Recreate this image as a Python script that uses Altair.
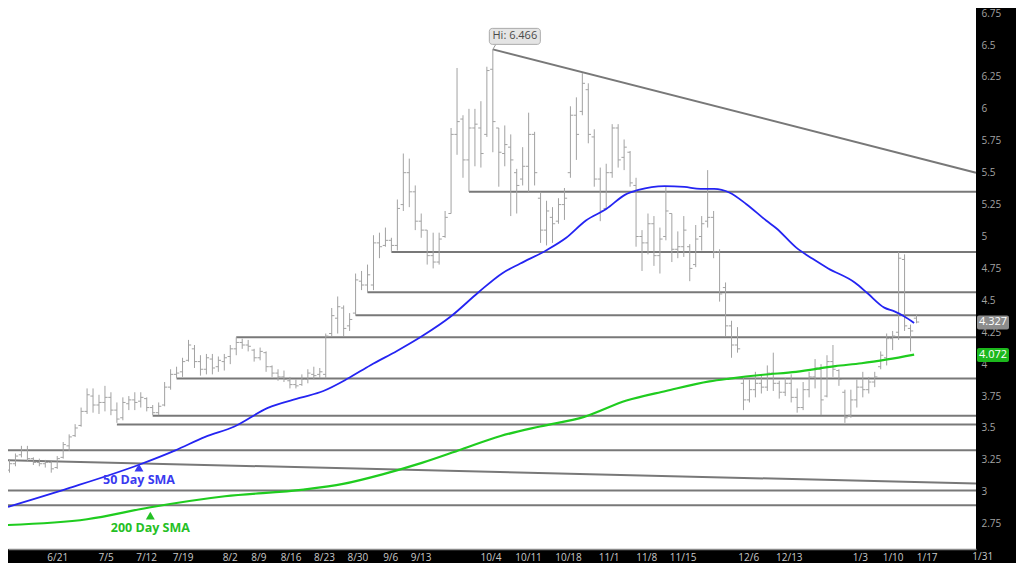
import altair as alt
import pandas as pd

# ---------------- data ----------------
opens = [3.17,3.22,3.29,3.33,3.26,3.23,3.22,3.23,3.19,3.27,
         3.36,3.44,3.52,3.63,3.75,3.68,3.70,3.74,3.64,3.58,
         3.69,3.72,3.71,3.73,3.66,3.62,3.68,3.82,3.92,3.94,
         4.03,4.12,4.02,3.96,4.04,3.98,4.02,4.06,4.12,4.17,
         4.15,4.11,4.05,4.09,3.98,3.93,3.90,3.87,3.84,3.84,
         3.88,3.92,3.92,3.92,4.24,4.36,4.44,4.30,4.40,4.65,
         4.62,4.62,4.95,4.93,4.97,4.93,5.25,5.50,5.35,5.12,
         5.05,4.85,4.80,5.00,5.18,5.80,5.92,5.60,5.85,5.85,
         5.80,6.31,5.85,5.65,5.70,5.50,5.45,5.55,5.80,5.30,
         5.05,5.15,5.12,5.25,5.50,5.95,5.98,6.15,5.78,5.45,
         5.22,5.50,5.85,5.62,5.66,5.40,5.00,4.95,5.10,4.85,
         5.00,5.18,4.90,4.92,4.92,4.78,5.00,5.12,5.15,4.88,
         4.60,4.30,4.15,3.85,3.72,3.80,3.85,3.82,3.93,3.85,
         3.78,3.85,3.74,3.66,3.80,3.90,3.96,3.75,4.02,3.95,
         3.78,3.60,3.72,3.82,3.80,3.86,3.98,4.05,4.20,4.25,
         4.82,4.28,4.36]
highs = [3.25,3.30,3.36,3.36,3.27,3.26,3.25,3.24,3.28,3.39,
         3.45,3.53,3.66,3.81,3.81,3.76,3.83,3.78,3.70,3.74,
         3.75,3.78,3.78,3.74,3.68,3.70,3.86,3.96,3.98,4.05,
         4.19,4.15,4.07,4.08,4.08,4.06,4.08,4.15,4.21,4.20,
         4.19,4.12,4.13,4.10,3.99,3.96,3.95,3.90,3.88,3.92,
         3.96,3.98,3.97,4.24,4.44,4.53,4.46,4.40,4.71,4.73,
         4.78,5.01,5.03,5.07,4.99,5.29,5.65,5.61,5.40,5.18,
         5.05,5.03,5.03,5.20,5.85,6.32,5.95,6.00,6.00,6.06,
         6.33,6.466,5.85,5.87,5.80,5.53,5.70,5.97,5.82,5.35,
         5.28,5.23,5.30,5.38,6.02,6.09,6.28,6.20,5.84,5.54,
         5.57,5.88,5.88,5.76,5.67,5.46,5.05,5.18,5.16,5.07,
         5.39,5.18,5.04,5.16,4.94,5.09,5.16,5.52,5.20,4.90,
         4.64,4.34,4.29,3.89,3.88,3.94,3.92,3.99,4.09,3.87,
         3.89,3.92,3.81,3.86,3.94,4.04,4.00,4.07,4.15,3.96,
         3.80,3.80,3.88,3.94,3.90,3.94,4.10,4.24,4.26,4.88,
         4.86,4.31,4.39]
lows = [3.15,3.20,3.27,3.24,3.21,3.20,3.19,3.15,3.18,3.26,
        3.32,3.43,3.51,3.61,3.62,3.61,3.63,3.60,3.54,3.56,
        3.64,3.64,3.66,3.63,3.60,3.60,3.67,3.80,3.89,3.90,
        4.02,3.97,3.91,3.92,3.92,3.94,3.95,4.00,4.07,4.12,
        4.10,4.02,4.03,3.94,3.90,3.87,3.86,3.81,3.81,3.83,
        3.85,3.88,3.89,3.89,4.22,4.24,4.22,4.26,4.38,4.58,
        4.56,4.58,4.83,4.92,4.88,4.89,5.20,5.23,5.05,4.99,
        4.78,4.75,4.78,4.99,5.18,5.64,5.46,5.35,5.55,5.54,
        5.78,5.66,5.39,5.55,5.16,5.18,5.40,5.35,5.40,4.95,
        4.93,4.95,5.10,5.13,5.46,5.60,5.95,5.73,5.39,5.12,
        5.22,5.46,5.54,5.52,5.39,4.92,4.73,4.86,4.77,4.71,
        4.97,4.80,4.83,4.84,4.65,4.76,4.89,5.07,4.83,4.49,
        4.22,4.05,4.09,3.64,3.70,3.74,3.77,3.79,3.79,3.73,
        3.75,3.70,3.62,3.64,3.74,3.81,3.60,3.74,3.90,3.83,
        3.54,3.58,3.66,3.74,3.77,3.82,3.96,3.99,4.11,4.19,
        4.26,4.10,4.32]
closes = [3.22,3.28,3.33,3.26,3.23,3.22,3.23,3.18,3.26,3.37,
          3.43,3.50,3.63,3.76,3.68,3.70,3.74,3.64,3.57,3.70,
          3.72,3.70,3.74,3.66,3.62,3.67,3.82,3.92,3.93,4.02,
          4.15,4.02,3.96,4.05,3.97,4.03,4.05,4.12,4.17,4.15,
          4.14,4.05,4.10,3.98,3.93,3.90,3.88,3.84,3.83,3.88,
          3.93,3.91,3.94,4.22,4.38,4.45,4.28,4.35,4.66,4.62,
          4.70,4.95,4.92,4.97,4.93,5.22,5.50,5.35,5.12,5.05,
          4.85,4.80,4.98,5.15,5.80,5.90,5.60,5.85,5.88,5.65,
          6.30,5.90,5.66,5.72,5.60,5.40,5.55,5.80,5.50,5.05,
          5.20,5.10,5.25,5.30,5.95,5.80,6.20,5.80,5.45,5.20,
          5.50,5.85,5.60,5.70,5.42,5.00,4.95,5.10,4.85,4.98,
          5.20,4.90,4.92,5.05,4.75,4.98,5.10,5.15,4.88,4.55,
          4.30,4.15,4.12,3.72,3.80,3.85,3.82,3.93,3.85,3.78,
          3.85,3.74,3.66,3.80,3.90,3.97,3.72,4.02,3.96,3.88,
          3.58,3.72,3.82,3.80,3.86,3.90,4.07,4.20,4.22,4.83,
          4.30,4.26,4.33]

# x axis: bar index positions of the date labels
tick_pos = [8.0, 16.1, 22.9, 29.0, 36.9, 41.7, 47.1, 52.7, 58.3, 63.8, 68.9,
            80.6, 86.9, 93.6, 100.4, 106.7, 112.8, 123.8, 130.6, 142.5, 148.0, 153.7]
tick_labels = ["6/21", "7/5", "7/12", "7/19", "8/2", "8/9", "8/16", "8/23", "8/30", "9/6", "9/13",
               "10/4", "10/11", "10/18", "11/1", "11/8", "11/15", "12/6", "12/13", "1/3", "1/10", "1/17"]
edge_label = ["1/31"]
edge_pos = [163.1]
y_ticks = [2.75, 3.0, 3.25, 3.5, 3.75, 4.0, 4.25, 4.5, 4.75, 5.0, 5.25, 5.5, 5.75, 6.0, 6.25, 6.5, 6.75]

X_MIN, X_MAX = -0.25, 161.97
Y_MIN, Y_MAX = 2.552, 6.79

# support / resistance levels and the bar they start from
level_values = [5.35, 4.878, 4.563, 4.383, 4.21, 3.887, 3.595, 3.527, 3.325, 3.01, 2.895]
level_start = [77, 64, 60, 58, 38, 28, 24, 18, X_MIN, X_MIN, X_MIN]

# trend lines
trend_x1 = [81, X_MIN]
trend_y1 = [6.466, 3.248]
trend_x2 = [X_MAX, X_MAX]
trend_y2 = [5.50, 3.065]

# moving averages
sma50_idx = [-0.25, 9.7, 21.7, 27.8, 32.8, 37.7, 43.2, 48.8, 52.6, 56.7, 60.5, 65.0, 69.1, 74.0,
             78.6, 82.6, 85.6, 90.0, 93.3, 96.6, 100.0, 103.2, 105.4, 109.8, 113.1, 115.8, 118.1,
             120.7, 123.5, 126.8, 128.5, 131.8, 134.6, 137.2, 141.7, 143.8, 146.6, 148.3, 149.9, 151.6]
sma50_val = [2.882, 3.025, 3.212, 3.325, 3.43, 3.512, 3.655, 3.737, 3.79, 3.887, 3.992, 4.105, 4.218,
             4.375, 4.563, 4.713, 4.788, 4.893, 4.99, 5.125, 5.215, 5.328, 5.365, 5.395, 5.388, 5.373,
             5.373, 5.343, 5.253, 5.125, 5.065, 4.915, 4.825, 4.75, 4.638, 4.555, 4.443, 4.413, 4.375, 4.323]
sma200_idx = [-0.25, 13.0, 23.4, 36.1, 49.3, 55.9, 62.5, 69.1, 75.7, 82.3, 88.9, 96.3, 103.4, 110.0,
              117.3, 120.7, 126.3, 131.8, 138.4, 142.8, 147.1, 151.6]
sma200_val = [2.74, 2.785, 2.877, 2.965, 3.017, 3.062, 3.137, 3.227, 3.332, 3.437, 3.512, 3.587,
              3.715, 3.79, 3.865, 3.887, 3.917, 3.94, 3.985, 4.007, 4.037, 4.075]

note_labels = ["50 Day SMA", "200 Day SMA"]
note_idx = [21.7, 23.6]
note_val = [3.22, 2.845]
note_colors = ["#3a3af0", "#25c025"]

hi_idx = [81]
hi_val = [6.466]
hi_text = ["Hi: 6.466"]

last_vals = [4.327, 4.072]
last_text = ["4.327", "4.072"]
last_fill = ["#8c8c8c", "#1cb81c"]

# ---------------- chart ----------------
W, H = 968, 541
FONT = "Open Sans"
BAR = "#a2a2a2"
LINE = "#787878"

xs = alt.Scale(domain=[X_MIN, X_MAX], nice=False, zero=False)
ys = alt.Scale(domain=[Y_MIN, Y_MAX], nice=False, zero=False)

label_expr = "[{}][indexof([{}], datum.value)]".format(
    ",".join("'" + t + "'" for t in tick_labels), ",".join(str(p) for p in tick_pos))

x_axis = alt.Axis(values=tick_pos, labelExpr=label_expr, ticks=False, grid=False,
                  domain=True, domainColor="#8a8a8a", domainWidth=1.5,
                  labelColor="#c9c9c9", labelFontSize=10, labelFont=FONT, labelPadding=3,
                  labelFlush=False, labelOverlap=False, title=None)
y_axis = alt.Axis(orient="right", values=y_ticks, format=".2~f", ticks=False, grid=False,
                  domain=False, labelColor="#a3a3a3", labelFontSize=10, labelFont=FONT,
                  labelPadding=5, title=None)


def X(field):
    return alt.X(field, scale=xs, axis=x_axis)


def Y(field):
    return alt.Y(field, scale=ys, axis=y_axis)


bars = pd.DataFrame({"i": list(range(len(closes))), "o": opens, "h": highs, "l": lows, "c": closes})
levels = pd.DataFrame({"v": level_values, "s": level_start, "e": [X_MAX] * len(level_values)})
trends = pd.DataFrame({"x1": trend_x1, "y1": trend_y1, "x2": trend_x2, "y2": trend_y2})
sma50 = pd.DataFrame({"i": sma50_idx, "v": sma50_val})
sma200 = pd.DataFrame({"i": sma200_idx, "v": sma200_val})
notes = pd.DataFrame({"i": note_idx, "v": note_val, "t": note_labels, "col": note_colors})
hi = pd.DataFrame({"i": hi_idx, "v": hi_val, "t": hi_text})
lastdf = pd.DataFrame({"v": last_vals, "t": last_text, "f": last_fill, "x": [X_MAX, X_MAX]})
edge = pd.DataFrame({"p": edge_pos, "t": edge_label})

level_layer = alt.Chart(levels).mark_rule(color=LINE, strokeWidth=2).encode(
    x=X("s:Q"), x2="e:Q", y=Y("v:Q"))

trend_layer = alt.Chart(trends).mark_rule(color=LINE, strokeWidth=2).encode(
    x=X("x1:Q"), y=Y("y1:Q"), x2="x2:Q", y2="y2:Q")

hl_layer = alt.Chart(bars).mark_rule(color=BAR, strokeWidth=1).encode(
    x=X("i:Q"), y=Y("l:Q"), y2="h:Q")
open_layer = alt.Chart(bars).transform_calculate(a="datum.i - 0.45").mark_rule(
    color=BAR, strokeWidth=1).encode(x=X("a:Q"), x2="i:Q", y=Y("o:Q"))
close_layer = alt.Chart(bars).transform_calculate(b="datum.i + 0.45").mark_rule(
    color=BAR, strokeWidth=1).encode(x=X("i:Q"), x2="b:Q", y=Y("c:Q"))

sma50_layer = alt.Chart(sma50).mark_line(color="#2424f2", strokeWidth=1.8, interpolate="monotone").encode(
    x=X("i:Q"), y=Y("v:Q"))
sma200_layer = alt.Chart(sma200).mark_line(color="#1fcc1f", strokeWidth=2.2, interpolate="monotone").encode(
    x=X("i:Q"), y=Y("v:Q"))

tri_layer = alt.Chart(notes).mark_point(shape="triangle-up", filled=True, size=80, opacity=1,
                                        yOffset=4).encode(
    x=X("i:Q"), y=Y("v:Q"), color=alt.Color("col:N", scale=None))
note_text = alt.Chart(notes).mark_text(font=FONT, fontSize=12.5, fontWeight="bold", yOffset=16,
                                       baseline="middle", align="center").encode(
    x=X("i:Q"), y=Y("v:Q"), text="t:N", color=alt.Color("col:N", scale=None))

hi_box = alt.Chart(hi).mark_rect(width=51, height=16, xOffset=22, yOffset=-13, cornerRadius=3,
                                 fill="#e4e4e4", stroke="#ababab", strokeWidth=1).encode(
    x=X("i:Q"), y=Y("v:Q"))
hi_tip = alt.Chart(hi).mark_rule(color="#9a9a9a", strokeWidth=1, xOffset=0, x2Offset=3,
                                 yOffset=0, y2Offset=-5).encode(
    x=X("i:Q"), x2="i:Q", y=Y("v:Q"), y2="v:Q")
hi_label = alt.Chart(hi).mark_text(font=FONT, fontSize=11, color="#4a4a4a", xOffset=22, yOffset=-13,
                                   align="center", baseline="middle").encode(
    x=X("i:Q"), y=Y("v:Q"), text="t:N")

last_box = alt.Chart(lastdf).mark_rect(width=32, height=14, xOffset=17, cornerRadius=2).encode(
    x=X("x:Q"), y=Y("v:Q"), fill=alt.Fill("f:N", scale=None))
last_label = alt.Chart(lastdf).mark_text(font=FONT, fontSize=11, color="#ffffff", xOffset=17,
                                         align="center", baseline="middle").encode(
    x=X("x:Q"), y=Y("v:Q"), text="t:N")

edge_text = alt.Chart(edge).mark_text(font=FONT, fontSize=10, color="#c9c9c9", baseline="top",
                                      align="center").encode(
    x=X("p:Q"), y=alt.value(H + 3), text="t:N")

chart = alt.layer(
    level_layer, trend_layer, hl_layer, open_layer, close_layer,
    sma200_layer, sma50_layer, tri_layer, note_text,
    hi_tip, hi_box, hi_label, last_box, last_label, edge_text
).properties(
    width=W, height=H,
    autosize=alt.AutoSizeParams(type="none"),
    padding={"left": 0, "top": 0, "right": 40, "bottom": 14},
    background="#000000",
).configure_view(fill="#ffffff", stroke=None)

chart.save("out.html", embed_options={"renderer": "svg", "actions": False})
